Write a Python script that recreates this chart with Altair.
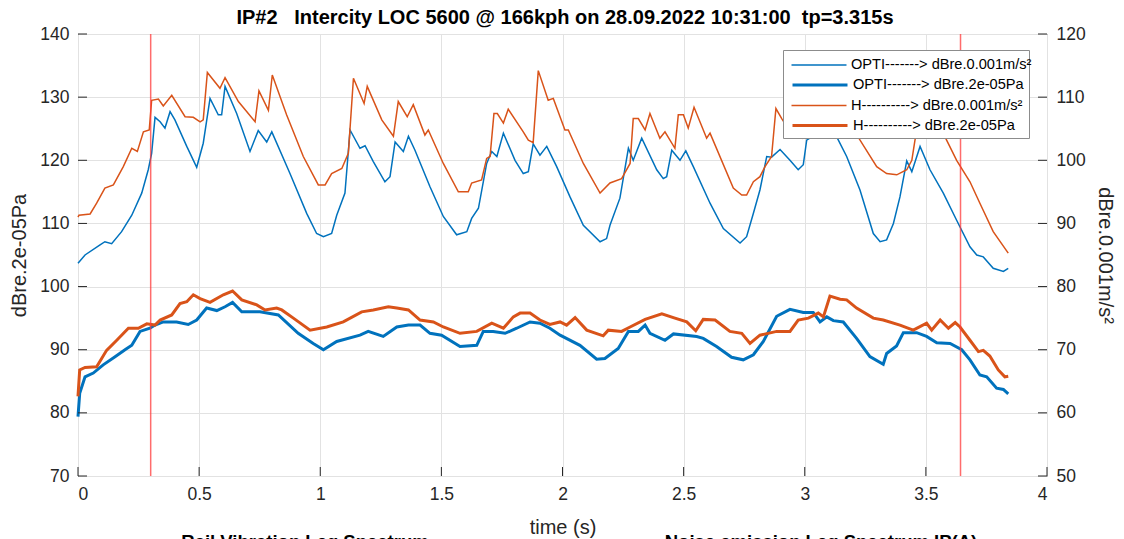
import altair as alt
import pandas as pd

# ---------------- data ----------------
# thin lines -> right axis (dBre.0.001m/s²), thick lines -> left axis (dBre.2e-05Pa)
opti_thin_t = [0.000, 0.029, 0.091, 0.111, 0.139, 0.180, 0.222, 0.263, 0.290, 0.304, 0.318, 0.339, 0.359, 0.380,
               0.400, 0.449, 0.490, 0.517, 0.545, 0.579, 0.593, 0.607, 0.655, 0.710, 0.744, 0.779, 0.800, 0.875,
               0.944, 0.985, 1.013, 1.047, 1.068, 1.102, 1.123, 1.164, 1.185, 1.219, 1.267, 1.288, 1.309, 1.343,
               1.364, 1.391, 1.453, 1.508, 1.563, 1.605, 1.625, 1.653, 1.687, 1.708, 1.729, 1.756, 1.804, 1.838,
               1.859, 1.879, 1.907, 1.935, 1.976, 2.031, 2.086, 2.155, 2.182, 2.196, 2.237, 2.272, 2.292, 2.327,
               2.389, 2.416, 2.430, 2.451, 2.485, 2.509, 2.540, 2.609, 2.664, 2.733, 2.760, 2.788, 2.815, 2.843,
               2.863, 2.898, 2.939, 2.973, 2.994, 3.008, 3.029, 3.060, 3.090, 3.132, 3.173, 3.228, 3.283, 3.311,
               3.338, 3.366, 3.393, 3.421, 3.442, 3.476, 3.517, 3.572, 3.627, 3.682, 3.710, 3.737, 3.778, 3.820,
               3.840]
opti_thin_v = [83.7, 85.0, 86.6, 87.1, 86.8, 88.7, 91.3, 94.8, 98.5, 101.1, 106.8, 106.1, 105.1, 107.7,
               106.4, 102.2, 98.9, 102.7, 109.8, 107.2, 107.2, 111.7, 107.4, 101.4, 104.7, 102.9, 104.5, 97.9,
               91.6, 88.4, 87.9, 88.4, 91.3, 94.8, 104.8, 101.9, 102.3, 99.8, 96.6, 97.4, 102.9, 101.4,
               103.8, 101.6, 95.8, 91.1, 88.2, 88.7, 90.8, 92.4, 99.5, 101.4, 100.6, 104.3, 100.0, 97.9,
               98.2, 102.6, 100.8, 102.2, 99.0, 94.2, 89.7, 87.1, 87.6, 89.7, 94.0, 101.9, 100.0, 103.5,
               98.5, 97.1, 97.4, 101.6, 100.0, 101.5, 99.0, 93.2, 89.2, 86.9, 87.9, 91.6, 95.3, 100.6,
               100.5, 101.7, 100.0, 98.5, 99.3, 103.2, 103.7, 105.0, 104.3, 103.7, 100.6, 95.3, 88.4, 87.1,
               87.4, 90.0, 94.2, 99.9, 98.2, 102.2, 98.5, 94.8, 90.5, 86.3, 85.0, 84.7, 82.9, 82.4,
               82.9]

h_thin_t = [0.000, 0.004, 0.050, 0.077, 0.111, 0.146, 0.187, 0.222, 0.245, 0.270, 0.294, 0.304, 0.332, 0.352,
            0.387, 0.442, 0.476, 0.504, 0.517, 0.534, 0.586, 0.607, 0.662, 0.731, 0.747, 0.786, 0.802, 0.861,
            0.930, 0.992, 1.020, 1.047, 1.089, 1.116, 1.137, 1.181, 1.194, 1.254, 1.302, 1.322, 1.359, 1.384,
            1.432, 1.446, 1.508, 1.570, 1.611, 1.625, 1.666, 1.687, 1.701, 1.717, 1.731, 1.756, 1.776, 1.838,
            1.859, 1.879, 1.900, 1.941, 1.962, 2.010, 2.024, 2.086, 2.155, 2.196, 2.244, 2.279, 2.292, 2.313,
            2.341, 2.361, 2.402, 2.423, 2.464, 2.478, 2.499, 2.519, 2.543, 2.595, 2.609, 2.705, 2.740, 2.760,
            2.788, 2.815, 2.836, 2.863, 2.881, 2.905, 2.940, 2.990, 3.030, 3.070, 3.100, 3.160, 3.220, 3.297,
            3.338, 3.380, 3.421, 3.442, 3.455, 3.480, 3.520, 3.550, 3.579, 3.627, 3.682, 3.723, 3.778, 3.840]
h_thin_v = [91.0, 91.3, 91.5, 93.2, 95.6, 96.1, 99.0, 101.9, 101.4, 104.5, 104.8, 109.5, 109.7, 108.6,
            110.3, 106.9, 106.8, 106.1, 106.4, 113.9, 111.4, 113.1, 109.3, 106.1, 111.0, 107.9, 113.5, 107.2,
            100.6, 96.1, 96.1, 97.9, 98.7, 101.1, 113.0, 109.0, 111.7, 106.4, 103.8, 109.3, 106.9, 108.8,
            104.0, 104.8, 99.5, 95.0, 95.0, 96.4, 96.9, 100.3, 100.6, 107.4, 107.4, 105.9, 108.1, 104.5,
            103.2, 102.8, 114.2, 109.5, 109.8, 104.8, 104.8, 99.5, 94.8, 96.4, 97.1, 99.5, 106.6, 106.6,
            104.8, 107.4, 103.5, 104.5, 101.9, 107.2, 107.2, 105.1, 108.4, 103.5, 104.3, 95.6, 94.5, 94.5,
            96.6, 97.4, 99.0, 100.6, 108.2, 106.6, 104.5, 103.5, 108.0, 106.5, 109.0, 105.5, 103.7, 99.0,
            97.9, 97.7, 98.5, 100.0, 103.2, 107.5, 105.5, 107.0, 103.7, 100.0, 96.6, 93.2, 88.7, 85.3]

opti_thick_t = [0.000, 0.007, 0.029, 0.063, 0.104, 0.153, 0.194, 0.222, 0.256, 0.297, 0.318, 0.352, 0.407, 0.455,
                0.490, 0.531, 0.573, 0.607, 0.638, 0.676, 0.751, 0.827, 0.909, 0.971, 1.013, 1.068, 1.164, 1.198,
                1.260, 1.316, 1.364, 1.412, 1.453, 1.501, 1.577, 1.646, 1.673, 1.714, 1.763, 1.811, 1.866, 1.907,
                1.948, 1.990, 2.072, 2.141, 2.175, 2.230, 2.272, 2.313, 2.341, 2.361, 2.423, 2.458, 2.554, 2.581,
                2.636, 2.698, 2.746, 2.788, 2.829, 2.884, 2.939, 2.994, 3.035, 3.063, 3.091, 3.118, 3.159, 3.214,
                3.269, 3.324, 3.338, 3.379, 3.407, 3.462, 3.503, 3.545, 3.600, 3.648, 3.682, 3.723, 3.751, 3.792,
                3.820, 3.840]
opti_thick_v = [79.4, 83.1, 85.7, 86.3, 87.6, 88.9, 90.0, 90.7, 92.9, 93.4, 93.9, 94.4, 94.4, 94.0,
                94.7, 96.6, 96.2, 96.8, 97.5, 96.0, 96.0, 95.5, 92.6, 91.0, 90.0, 91.3, 92.3, 92.9,
                92.1, 93.6, 93.9, 93.9, 92.6, 92.3, 90.5, 90.7, 92.9, 92.9, 92.6, 93.4, 94.4, 94.2,
                93.4, 92.3, 90.7, 88.5, 88.6, 90.2, 92.9, 92.9, 93.9, 92.6, 91.5, 92.5, 92.1, 91.8,
                90.5, 88.8, 88.4, 89.2, 91.3, 95.3, 96.4, 95.9, 95.9, 94.4, 95.2, 94.6, 94.4, 91.8,
                88.9, 87.7, 89.4, 90.6, 92.7, 92.7, 92.1, 91.1, 91.0, 90.0, 88.4, 86.0, 85.7, 83.9,
                83.7, 83.0]

h_thick_t = [0.000, 0.007, 0.029, 0.077, 0.118, 0.160, 0.208, 0.249, 0.284, 0.318, 0.339, 0.387, 0.421, 0.449,
             0.476, 0.504, 0.545, 0.600, 0.638, 0.676, 0.738, 0.772, 0.820, 0.841, 0.889, 0.958, 1.027, 1.095,
             1.171, 1.219, 1.281, 1.316, 1.364, 1.412, 1.467, 1.508, 1.577, 1.646, 1.708, 1.756, 1.797, 1.825,
             1.866, 1.907, 1.948, 1.990, 2.017, 2.052, 2.100, 2.168, 2.189, 2.244, 2.279, 2.341, 2.410, 2.464,
             2.513, 2.550, 2.581, 2.630, 2.691, 2.740, 2.774, 2.815, 2.884, 2.939, 2.973, 3.015, 3.056, 3.077,
             3.104, 3.146, 3.173, 3.214, 3.283, 3.324, 3.393, 3.448, 3.503, 3.524, 3.559, 3.593, 3.621, 3.641,
             3.682, 3.717, 3.737, 3.764, 3.799, 3.826, 3.840]
h_thick_v = [82.6, 86.8, 87.2, 87.3, 89.9, 91.5, 93.4, 93.4, 94.1, 93.9, 94.7, 95.5, 97.3, 97.6,
             98.7, 98.1, 97.5, 98.7, 99.3, 97.9, 97.1, 96.3, 96.6, 96.3, 95.0, 93.1, 93.6, 94.4,
             96.0, 96.3, 96.8, 96.6, 96.3, 94.7, 94.4, 93.6, 92.6, 92.9, 94.2, 93.4, 95.2, 95.8,
             95.8, 94.7, 94.0, 94.4, 93.9, 95.1, 93.1, 92.2, 93.1, 92.9, 93.6, 94.8, 95.7, 95.0,
             94.4, 93.0, 94.8, 94.7, 92.9, 92.6, 91.0, 92.3, 92.9, 92.9, 94.7, 95.0, 95.8, 95.2,
             98.5, 98.0, 97.9, 96.6, 95.0, 94.7, 93.9, 93.1, 94.2, 93.1, 94.7, 93.4, 94.3, 93.6,
             91.5, 89.7, 89.9, 89.0, 86.8, 85.7, 85.8]

thin_labels = ["OPTI-------> dBre.0.001m/s²", "H----------> dBre.0.001m/s²"]
thick_labels = ["OPTI-------> dBre.2e-05Pa", "H----------> dBre.2e-05Pa"]
pair_colors = ["#0072BD", "#D95319"]

marker_t = [0.300, 3.643]
x_ticks = [0, 0.5, 1, 1.5, 2, 2.5, 3, 3.5, 4]
left_ticks = [70, 80, 90, 100, 110, 120, 130, 140]
right_ticks = [50, 60, 70, 80, 90, 100, 110, 120]

title_text = "IP#2\u00a0\u00a0\u00a0Intercity LOC 5600 @ 166kph on 28.09.2022 10:31:00\u00a0\u00a0tp=3.315s"
below_left = "Rail Vibration Leq Spectrum"
below_right = "Noise emission Leq Spectrum  IP(A)"

# ---------------- tables ----------------
def frame(ts, vs, label):
    return pd.DataFrame({"t": ts, "v": vs, "series": label})

thin_df = pd.concat([frame(opti_thin_t, opti_thin_v, thin_labels[0]),
                     frame(h_thin_t, h_thin_v, thin_labels[1])])
thick_df = pd.concat([frame(opti_thick_t, opti_thick_v, thick_labels[0]),
                      frame(h_thick_t, h_thick_v, thick_labels[1])])
marker_df = pd.DataFrame({"t": marker_t})
xtick_df = pd.DataFrame({"t": x_ticks})
ltick_df = pd.DataFrame({"v": left_ticks})
rtick_df = pd.DataFrame({"v": right_ticks})

W, H = 969, 442
FONT = "Liberation Sans"
INK = "#262626"
THIN, THICK = 1.5, 3.0

xscale = alt.Scale(domain=[0, 4], nice=False, zero=False)
lscale = alt.Scale(domain=[70, 140], nice=False, zero=False)
rscale = alt.Scale(domain=[50, 120], nice=False, zero=False)
xaxis = alt.Axis(values=x_ticks, title="time (s)", grid=True, format="~g")

SYM = 336  # custom path M-3,0H3 -> 3*sqrt(SYM) px long
common = dict(orient="none", legendX=705, symbolType="M-3,0H3", symbolSize=SYM, symbolOffset=21,
              labelOffset=22, labelFontSize=14.6, labelFont=FONT, labelColor="#000000",
              labelLimit=400, padding=5)
# boxed legend (thick entries, rows 2 and 4); its blank title line is the room for row 1
# and sets the box width
thick_legend = alt.Legend(title="\u00a0" * 57, titleFont=FONT, titleFontSize=15, titlePadding=4,
                          titleLimit=600, legendY=16,
                          fillColor="white", strokeColor="#8c8c8c", symbolStrokeWidth=THICK,
                          rowPadding=22.6, zindex=0, **common)
# thin entries (rows 1 and 3), drawn on top of the box
thin_legend = alt.Legend(title=None, legendY=16, symbolStrokeWidth=THIN,
                         rowPadding=23.6, zindex=1, **common)

thick = alt.Chart(thick_df).mark_line(strokeWidth=THICK).encode(
    x=alt.X("t:Q", scale=xscale, axis=xaxis),
    y=alt.Y("v:Q", scale=lscale,
            axis=alt.Axis(values=left_ticks, title="dBre.2e-05Pa", orient="left", grid=True)),
    color=alt.Color("series:N", scale=alt.Scale(domain=thick_labels, range=pair_colors),
                    legend=thick_legend))

thin = alt.Chart(thin_df).mark_line(strokeWidth=THIN).encode(
    x=alt.X("t:Q", scale=xscale, axis=xaxis),
    y=alt.Y("v:Q", scale=rscale,
            axis=alt.Axis(values=right_ticks, title="dBre.0.001m/s²", orient="right", grid=False)),
    color=alt.Color("series:N", scale=alt.Scale(domain=thin_labels, range=pair_colors),
                    legend=thin_legend))

markers = alt.Chart(marker_df).mark_rule(color="#ff3b3b", opacity=0.75, strokeWidth=1.5).encode(
    x=alt.X("t:Q", scale=xscale, axis=xaxis))

xticks = alt.Chart(xtick_df).mark_rule(color=INK, strokeWidth=1).encode(
    x=alt.X("t:Q", scale=xscale, axis=xaxis), y=alt.value(H), y2=alt.value(H - 9))

lticks = alt.Chart(ltick_df).mark_rule(color=INK, strokeWidth=1).encode(
    y=alt.Y("v:Q", scale=lscale, axis=None), x=alt.value(0), x2=alt.value(9))

rticks = alt.Chart(rtick_df).mark_rule(color=INK, strokeWidth=1).encode(
    y=alt.Y("v:Q", scale=rscale, axis=None), x=alt.value(W), x2=alt.value(W - 9))

title_mark = alt.Chart(pd.DataFrame({"label": [title_text]})).mark_text(
    font=FONT, fontSize=20, fontWeight="bold", color="#000000", baseline="alphabetic", align="center"
).encode(text="label:N", x=alt.value(487), y=alt.value(-10))

below1 = alt.Chart(pd.DataFrame({"label": [below_left]})).mark_text(
    font=FONT, fontSize=18.5, fontWeight="bold", color="#000000", baseline="top", align="center"
).encode(text="label:N", x=alt.value(227), y=alt.value(H + 57))
below2 = alt.Chart(pd.DataFrame({"label": [below_right]})).mark_text(
    font=FONT, fontSize=18.5, fontWeight="bold", color="#000000", baseline="top", align="center"
).encode(text="label:N", x=alt.value(743), y=alt.value(H + 57))

chart = alt.layer(thick, thin, markers, xticks, lticks, rticks, title_mark, below1, below2).resolve_scale(
    y="independent", color="independent").properties(
    width=W, height=H, background="white",
    padding={"left": 70, "top": 26, "right": 69, "bottom": 70},
    autosize=alt.AutoSizeParams(type="none"),
).configure_view(stroke=INK, strokeWidth=1).configure_axis(
    domain=False, ticks=False, labelFont=FONT, titleFont=FONT, labelFontSize=17.5, titleFontSize=20,
    labelColor=INK, titleColor=INK, titleFontWeight="normal", gridColor="#e2e2e2", gridWidth=1,
    labelPadding=9,
).configure_axisLeft(titlePadding=10).configure_axisRight(titlePadding=9
).configure_axisBottom(titlePadding=15)

chart.save("out.html", embed_options={"renderer": "svg", "actions": False})
